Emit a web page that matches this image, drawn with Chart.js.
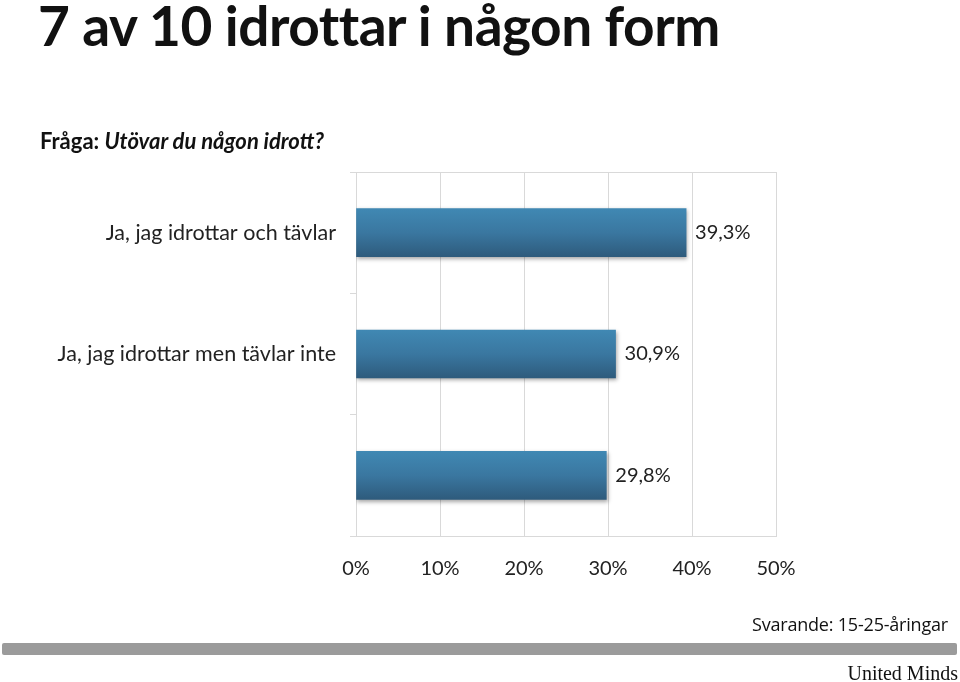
<!DOCTYPE html>
<html>
<head>
<meta charset="utf-8">
<script src="https://cdn.jsdelivr.net/npm/chart.js@4"></script>
<style>
  body { margin: 0; background: #fff; font-family: Lato, sans-serif; }
  #wrap { position: relative; width: 960px; height: 682px; overflow: hidden; }
  #chart { position: absolute; left: 0; top: 0; }
  .title { position: absolute; left: 38px; top: -8px; font: bold 55px Lato; color: #111; white-space: nowrap; letter-spacing: -0.5px; }
  .question { position: absolute; left: 40px; top: 127px; font: bold 22px Lato; color: #111; white-space: nowrap; }
  .question i { font-style: italic; }
  .resp { position: absolute; right: 12px; top: 612px; font: 18px "Open Sans"; color: #111; white-space: nowrap; letter-spacing: -0.2px; }
  .band { position: absolute; left: 2px; top: 643px; width: 955px; height: 12px; background: #9b9b9b; border-radius: 2px; }
  .brand { position: absolute; right: 2px; top: 662px; font: 20px "Liberation Serif"; color: #111; white-space: nowrap; }
</style>
</head>
<body>
<div id="wrap">
  <canvas id="chart" width="960" height="682"></canvas>
  <div class="title">7 av 10 idrottar i någon form</div>
  <div class="question">Fråga: <i>Utövar du någon idrott?</i></div>
  <div class="resp">Svarande: 15-25-åringar</div>
  <div class="band"></div>
  <div class="brand">United Minds</div>
</div>
<script>
const categories = ["Ja, jag idrottar och tävlar", "Ja, jag idrottar men tävlar inte", ""];
const values = [39.3, 30.9, 29.8];
const xTicks = [0, 10, 20, 30, 40, 50];

const fmt = (v) => v.toFixed(1).replace(".", ",") + "%";

// gradient per bar, built from the y scale position
const barFill = (context) => {
  const chart = context.chart;
  const y = chart.scales.y;
  if (!y || context.dataIndex === undefined) return "#3a76a0";
  const mid = y.getPixelForValue(context.dataIndex);
  if (!isFinite(mid)) return "#3a76a0";
  const g = chart.ctx.createLinearGradient(0, mid - 24, 0, mid + 24);
  g.addColorStop(0, "#4088b3");
  g.addColorStop(0.5, "#3a77a0");
  g.addColorStop(1, "#2e5b7c");
  return g;
};

const shadowPlugin = {
  id: "shadow",
  beforeDatasetsDraw(chart) {
    const ctx = chart.ctx;
    ctx.save();
    ctx.shadowColor = "rgba(0,0,0,0.35)";
    ctx.shadowBlur = 4;
    ctx.shadowOffsetX = 1;
    ctx.shadowOffsetY = 2;
  },
  afterDatasetsDraw(chart) {
    chart.ctx.restore();
  }
};

const valueLabels = {
  id: "valueLabels",
  afterDatasetsDraw(chart) {
    const ctx = chart.ctx;
    const meta = chart.getDatasetMeta(0);
    ctx.save();
    ctx.font = "20px Lato";
    ctx.fillStyle = "#222";
    ctx.textBaseline = "middle";
    meta.data.forEach((bar, i) => {
      ctx.fillText(fmt(values[i]), bar.x + 9, bar.y);
    });
    ctx.restore();
  }
};

new Chart(document.getElementById("chart"), {
  type: "bar",
  data: {
    labels: categories,
    datasets: [{
      data: values,
      backgroundColor: barFill,
      borderWidth: 0,
      barThickness: 48
    }]
  },
  options: {
    indexAxis: "y",
    responsive: false,
    animation: false,
    layout: { padding: { top: 172, right: 184, left: 0, bottom: 0 } },
    plugins: { legend: { display: false }, tooltip: { enabled: false } },
    scales: {
      x: {
        min: 0,
        max: 50,
        afterBuildTicks: (axis) => { axis.ticks = xTicks.map(v => ({ value: v })); },
        afterFit: (axis) => { axis.height = 146; },
        grid: { color: "#d9d9d9", drawTicks: false, lineWidth: 1 },
        border: { color: "#d9d9d9" },
        ticks: { padding: 21, color: "#222", font: { family: "Lato", size: 20 }, callback: (v) => v + "%" }
      },
      x2: {
        position: "top",
        min: 0,
        max: 50,
        afterFit: (axis) => { axis.height = 0; },
        grid: { display: false },
        border: { color: "#d9d9d9" },
        ticks: { display: false }
      },
      y: {
        afterFit: (axis) => { axis.width = 356; },
        grid: { offset: true, drawOnChartArea: false, tickLength: 6, color: "#d9d9d9" },
        border: { color: "#d9d9d9" },
        ticks: { padding: 14, color: "#222", font: { family: "Lato", size: 21.5 } }
      }
    }
  },
  plugins: [shadowPlugin, valueLabels]
});
</script>
</body>
</html>
